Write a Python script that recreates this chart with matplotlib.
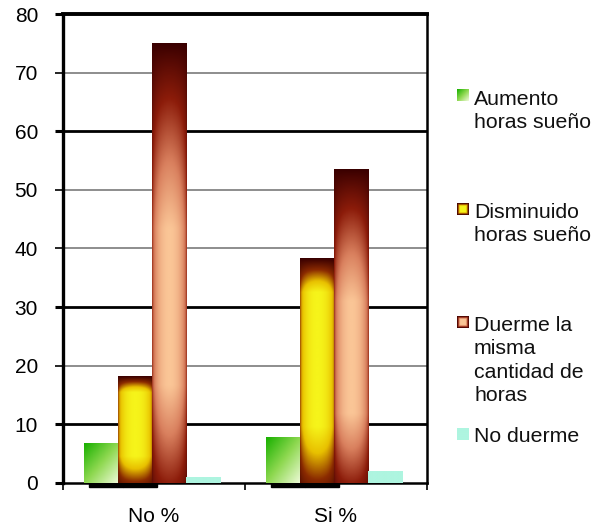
import matplotlib.pyplot as plt
import numpy as np
from matplotlib.colors import LinearSegmentedColormap, to_rgb
from matplotlib.patches import Rectangle

plt.rcParams['font.family'] = ['Liberation Sans', 'DejaVu Sans']

categories = ['No %', 'Si %']
series_names = ['Aumento horas sueño', 'Disminuido horas sueño',
                'Duerme la misma cantidad de horas', 'No duerme']
legend_lines = [['Aumento', 'horas sueño'],
                ['Disminuido', 'horas sueño'],
                ['Duerme la', 'misma', 'cantidad de', 'horas'],
                ['No duerme']]
aumento = [6.8, 7.8]
disminuido = [18.2, 38.3]
misma = [75.0, 53.4]
no_duerme = [1.0, 2.0]
values = [aumento, disminuido, misma, no_duerme]
y_ticks = [0, 10, 20, 30, 40, 50, 60, 70, 80]
heavy_grid = [10, 30, 60]

brown_cmap = LinearSegmentedColormap.from_list(
    'brown', ['#3a0000', '#8c1c0a', '#d9805e', '#fac596'])
yellow_cmap = LinearSegmentedColormap.from_list(
    'yellow', ['#3a0000', '#8a2a00', '#e8c000', '#f6f41a'])
green_cmap = LinearSegmentedColormap.from_list(
    'green', ['#18b000', '#8ed850', '#eefad8'])


def shade(kind, nx=40, ny=200):
    u = np.linspace(0, 1, nx)[None, :]
    s = np.linspace(0, 1, ny)[:, None]  # 0 = top of bar
    if kind == 'green':
        t = (u + s) / 2
        return green_cmap(t)
    if kind == 'cyan':
        img = np.ones((ny, nx, 3)) * np.array(to_rgb('#aef5e0'))
        return img
    h = np.sin(np.pi * np.clip(u * 0.96 + 0.02, 0, 1)) ** 0.3
    if kind == 'brown':
        top = np.clip(s / 0.42, 0, 1) ** 0.9
        bottom = 1 - 0.65 * np.clip((s - 0.78) / 0.22, 0, 1)
        return brown_cmap(h * top * bottom)
    top = np.clip(s / 0.15, 0, 1)
    bottom = 1 - 0.7 * np.clip((s - 0.75) / 0.25, 0, 1)
    return yellow_cmap(h * top * bottom)


def marker_img(kind, n=24):
    u = np.linspace(0, 1, n)[None, :]
    s = np.linspace(0, 1, n)[:, None]
    if kind == 'green':
        return green_cmap((u + s) / 2)
    if kind == 'cyan':
        return np.ones((n, n, 3)) * np.array(to_rgb('#aef5e0'))
    edge = np.minimum(np.minimum(u, 1 - u), np.minimum(s, 1 - s))
    t = np.clip(edge / 0.25, 0, 1)
    cmap = brown_cmap if kind == 'brown' else yellow_cmap
    return cmap(t)


kinds = ['green', 'yellow', 'brown', 'cyan']

fig = plt.figure(figsize=(6.03, 5.31), dpi=100)
ax = fig.add_axes([63 / 603, 48 / 531, 364 / 603, 469 / 531])

width = 0.187
shift = -0.012
x = np.arange(len(categories))
for i, (kind, vals) in enumerate(zip(kinds, values)):
    for xc, v in zip(x, vals):
        x0 = xc + (i - 2) * width + shift
        ax.imshow(shade(kind), extent=(x0, x0 + width, 0, v), aspect='auto',
                  interpolation='bilinear', zorder=3)
        if i < 2:
            ax.add_patch(Rectangle((x0 + 0.03, -0.75), width, 0.75,
                                   color='black', zorder=2, clip_on=False))

for yv in y_ticks[1:-1]:
    if yv in heavy_grid:
        ax.axhline(yv, color='black', lw=2.0, zorder=1)
    else:
        ax.axhline(yv, color='#7a7a7a', lw=1.2, zorder=1)

ax.set_xlim(-0.5, 1.5)
ax.set_ylim(0, 80)
ax.set_yticks(y_ticks)
ax.set_xticks(x)
ax.set_xticklabels(categories)
ax.set_xticks([-0.5, 0.5, 1.5], minor=True)
ax.tick_params(axis='x', which='major', length=0, pad=17, labelsize=15)
ax.tick_params(axis='x', which='minor', length=5, width=1.2, direction='out')
ax.tick_params(axis='y', length=6, width=1.2, pad=12, labelsize=15)
for tick, yv in zip(ax.yaxis.get_major_ticks(), y_ticks):
    if yv in heavy_grid or yv in (0, 80):
        tick.tick1line.set_markeredgewidth(2.2)

ax.spines['left'].set_linewidth(2.4)
ax.spines['top'].set_linewidth(2.8)
ax.spines['right'].set_linewidth(1.8)
ax.spines['bottom'].set_linewidth(1.8)

# legend drawn by hand: gradient squares plus wrapped labels
marker_tops = [89, 203, 316, 428]
baselines = [105, 218, 331, 442]
for kind, lines, mtop, base in zip(kinds, legend_lines, marker_tops, baselines):
    max_ax = fig.add_axes([457 / 603, 1 - (mtop + 12) / 531, 12 / 603, 12 / 531])
    max_ax.imshow(marker_img(kind), aspect='auto', interpolation='bilinear')
    max_ax.axis('off')
    for j, line in enumerate(lines):
        fig.text(474 / 603, 1 - (base + j * 23.3) / 531, line, fontsize=15.3,
                 va='baseline', ha='left', color='#111111')

fig.savefig('out.png', dpi=100)
